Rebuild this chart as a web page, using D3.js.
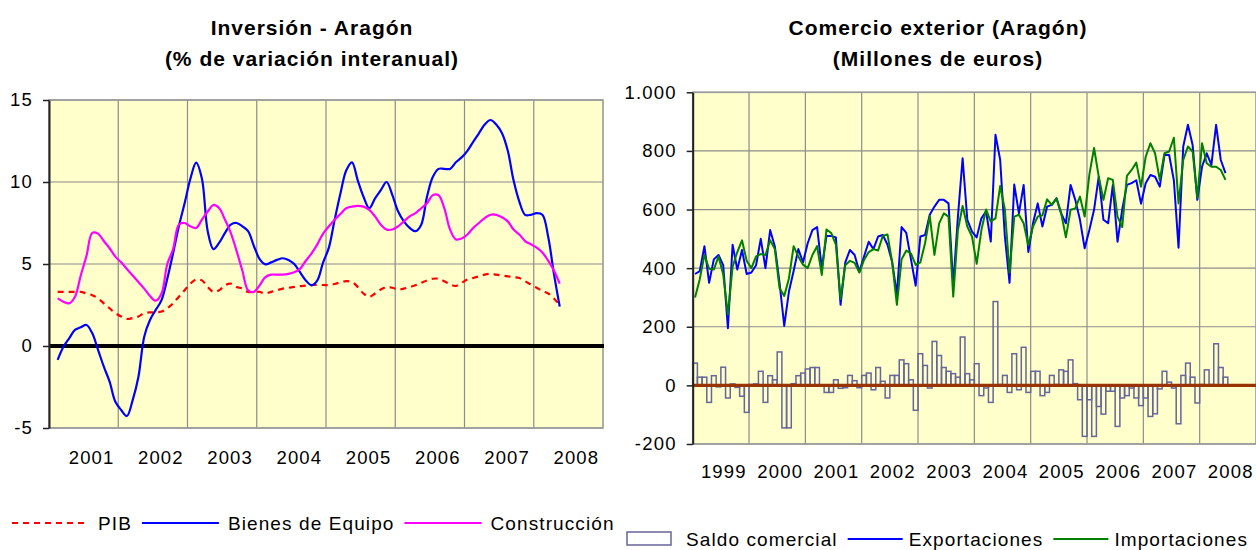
<!DOCTYPE html>
<html>
<head>
<meta charset="utf-8">
<script src="https://cdn.jsdelivr.net/npm/d3@7"></script>
<style>
  body { margin: 0; background: #fff; }
  svg text { font-family: "Liberation Sans", Arial, sans-serif; fill: #000; }
</style>
</head>
<body>
<div id="chart"></div>
<script>
// ---- Inversión - Aragón (monthly, first point = Feb 2001) ----
const yearsL = [2001, 2002, 2003, 2004, 2005, 2006, 2007, 2008];
const startMonthL = 1;
const yTicksL = [-5, 0, 5, 10, 15];
const pib = [
  3.3, 3.3, 3.3, 3.3, 3.3, 3.2, 3.1, 2.9, 2.6, 2.3,
  2.0, 1.8, 1.65, 1.7, 1.8, 2.0, 2.05, 2.05, 2.1, 2.3,
  2.6, 3.0, 3.4, 3.8, 4.05, 4.0, 3.6, 3.3, 3.4, 3.7,
  3.8, 3.6, 3.5, 3.3, 3.3, 3.3, 3.2, 3.3, 3.4, 3.5,
  3.55, 3.6, 3.65, 3.68, 3.72, 3.72, 3.72, 3.72, 3.78, 3.88,
  3.95, 3.9, 3.6, 3.2, 3.0, 3.2, 3.45, 3.6, 3.55, 3.45,
  3.5, 3.6, 3.7, 3.85, 4.0, 4.1, 4.1, 3.95, 3.75, 3.66,
  3.85, 4.05, 4.15, 4.25, 4.35, 4.4, 4.35, 4.3, 4.25, 4.2,
  4.15, 3.95, 3.75, 3.55, 3.35, 3.2, 2.9, 2.5
];
const bienesEquipo = [
  -0.85, -0.05, 0.47, 0.98, 1.14, 1.28, 0.77, -0.24, -1.26, -2.17,
  -3.4, -3.9, -4.27, -3.3, -1.87, 0.57, 1.59, 2.2, 2.8, 4.1,
  5.65, 7.3, 8.7, 10.2, 11.18, 10.2, 7.0, 5.9, 6.3, 6.9,
  7.4, 7.5, 7.3, 7.0, 6.1, 5.3, 4.98, 5.1, 5.25, 5.35,
  5.25, 5.0, 4.5, 4.0, 3.7, 4.0, 5.1, 6.0, 7.7, 9.3,
  10.7, 11.2, 10.1, 9.1, 8.4, 9.0, 9.5, 10.0, 9.2, 8.2,
  7.6, 7.2, 7.0, 7.4, 9.1, 10.3, 10.8, 10.8, 10.8, 11.2,
  11.5, 11.9, 12.45, 12.97, 13.5, 13.78, 13.5, 12.97, 11.9, 10.1,
  8.8, 8.0, 8.0, 8.1, 8.0, 6.66, 4.4, 2.4
];
const construccion = [
  2.9, 2.7, 2.6, 3.0, 4.3, 5.5, 6.9, 6.85, 6.4, 5.96,
  5.45, 5.1, 4.7, 4.3, 3.9, 3.5, 3.05, 2.76, 3.2, 5.0,
  5.9, 7.4, 7.5, 7.3, 7.2, 7.7, 8.2, 8.6, 8.4, 7.7,
  6.9, 5.8, 4.6, 3.4, 3.3, 3.7, 4.2, 4.35, 4.35, 4.35,
  4.4, 4.5, 4.7, 5.2, 5.65, 6.2, 6.85, 7.3, 7.7, 8.05,
  8.4, 8.5, 8.55, 8.5, 8.3, 7.9, 7.4, 7.1, 7.1, 7.3,
  7.6, 7.9, 8.1, 8.4, 8.7, 9.2, 9.2, 8.4, 7.1, 6.5,
  6.55, 6.8, 7.2, 7.5, 7.8, 8.0, 8.0, 7.85, 7.6, 7.1,
  6.8, 6.4, 6.2, 6.0, 5.7, 5.2, 4.6, 3.8
];

// ---- Comercio exterior (Aragón), monthly from Jan 1999 ----
const yearsR = [1999, 2000, 2001, 2002, 2003, 2004, 2005, 2006, 2007, 2008];
const yTicksR = [-200, 0, 200, 400, 600, 800, 1000];
const exportaciones = [
  380, 390, 475, 350, 430, 445, 410, 195, 480, 395, 462, 380,
  385, 410, 500, 400, 530, 474, 350, 203, 320, 390, 465, 420,
  485, 530, 540, 400, 510, 510, 505, 275, 420, 462, 445, 388,
  440, 490, 465, 508, 513, 480, 420, 310, 540, 520, 430, 340,
  508, 513, 582, 610, 633, 633, 621, 340, 576, 775, 565, 525,
  505, 570, 594, 491, 855, 770, 508, 350, 685, 587, 684, 455,
  553, 621, 542, 610, 616, 638, 587, 553, 684, 633, 565, 468,
  530, 599, 712, 565, 553, 684, 490, 600, 684, 690, 700, 620,
  690, 718, 712, 678, 786, 786, 700, 470, 815, 889, 820, 633,
  746, 792, 752, 889, 769, 724
];
const importaciones = [
  300, 362, 445, 398, 395, 440, 378, 242, 405, 455, 495, 425,
  400, 440, 448, 445, 495, 465, 332, 305, 365, 475, 440, 412,
  400, 445, 475, 377, 532, 520, 480, 295, 410, 425, 418, 385,
  428, 455, 465, 460, 510, 515, 420, 275, 430, 460, 450, 411,
  420, 485, 578, 445, 553, 587, 576, 303, 530, 612, 542, 508,
  415, 530, 600, 559, 570, 680, 600, 385, 576, 582, 553, 478,
  542, 576, 580, 635, 616, 638, 587, 505, 599, 604, 644, 576,
  719, 810, 712, 633, 707, 701, 576, 540, 715, 735, 760, 678,
  780, 826, 792, 701, 792, 798, 845, 621, 769, 815, 798, 640,
  826, 758, 746, 746, 735, 701
];
const saldoComercial = [
  76, 28, 28, -58, 33, -5, 62, -43, 5, -7, -37, -92,
  3, 5, 48, -58, 33, 19, 114, -145, -145, 6, 33, 42,
  56, 61, 61, 2, -24, -24, 19, -10, -8, 34, 16, -8,
  34, 42, -15, 61, 14, -43, 34, 34, 87, 74, 19, -85,
  108, 68, -9, 150, 102, 61, 48, 40, 28, 165, 40, 19,
  74, -35, -9, -58, 286, 3, 34, -24, 108, -15, 130, -24,
  48, 48, -35, -24, 34, 3, 53, 48, 87, 6, -49, -174,
  -49, -174, -72, -98, -20, -20, -140, -43, -35, -9, -43, -69,
  -43, -106, -97, -12, 48, 11, -9, -131, 34, 76, 28, -60,
  3, 53, 3, 142, 61, 28
];

const W = 1256, H = 550;
const plotBg = '#ffffcc';
const gridColor = '#8c8c8c';
const esFormat = d3.formatLocale({ decimal: ',', thousands: '.', grouping: [3], currency: ['', ' €'], minus: '-' }).format(',d');

const svg = d3.select('#chart').append('svg').attr('width', W).attr('height', H);

function title(cx, lines) {
  lines.forEach((t, i) => {
    svg.append('text')
      .attr('x', cx).attr('y', 35 + i * 31)
      .attr('text-anchor', 'middle')
      .attr('font-size', 21).attr('font-weight', 'bold')
      .attr('letter-spacing', 1)
      .text(t);
  });
}

function frame(g, box, xGrid, yGrid, x, y) {
  g.append('rect')
    .attr('x', box.left).attr('y', box.top)
    .attr('width', box.right - box.left).attr('height', box.bottom - box.top)
    .attr('fill', plotBg);
  g.append('g').selectAll('line').data(yGrid).join('line')
    .attr('x1', box.left).attr('x2', box.right)
    .attr('y1', (d) => y(d)).attr('y2', (d) => y(d))
    .attr('stroke', gridColor).attr('stroke-width', 1.2);
  g.append('g').selectAll('line').data(xGrid).join('line')
    .attr('x1', (d) => x(d)).attr('x2', (d) => x(d))
    .attr('y1', box.top).attr('y2', box.bottom)
    .attr('stroke', gridColor).attr('stroke-width', 1.2);
  g.append('rect')
    .attr('x', box.left).attr('y', box.top)
    .attr('width', box.right - box.left).attr('height', box.bottom - box.top)
    .attr('fill', 'none').attr('stroke', '#999').attr('stroke-width', 1.6);
}

function yAxis(g, box, y, ticks) {
  const ax = g.append('g')
    .attr('transform', `translate(${box.left},0)`)
    .call(d3.axisLeft(y).tickValues(ticks).tickSize(6).tickSizeOuter(0).tickPadding(10).tickFormat(esFormat));
  ax.select('.domain').attr('stroke', '#222').attr('stroke-width', 2);
  ax.selectAll('.tick line').attr('stroke', '#222').attr('stroke-width', 1.5);
  ax.selectAll('.tick text')
    .attr('font-size', 18.5).attr('letter-spacing', 1.2)
    .attr('font-family', '"Liberation Sans", Arial, sans-serif').attr('fill', '#000');
}

function xLabels(g, band, yPos, shift) {
  const ax = g.append('g')
    .attr('transform', `translate(${shift},${yPos})`)
    .call(d3.axisBottom(band).tickSize(0).tickPadding(0));
  ax.select('.domain').remove();
  ax.selectAll('.tick text')
    .attr('font-size', 18.5).attr('letter-spacing', 1.2)
    .attr('font-family', '"Liberation Sans", Arial, sans-serif').attr('fill', '#000');
}

// ================= Left chart =================
const L = { left: 49, right: 603, top: 100, bottom: 428 };
const xL = d3.scaleLinear().domain([0, yearsL.length * 12]).range([L.left, L.right]);
const yL = d3.scaleLinear().domain([-5, 15]).range([L.bottom, L.top]);
const bandL = d3.scaleBand().domain(yearsL).range([L.left, L.right]);
const gL = svg.append('g');

title(312, ['Inversión - Aragón', '(% de variación interanual)']);
frame(gL, L, d3.range(1, yearsL.length).map((k) => k * 12), yTicksL, xL, yL);

gL.append('line')
  .attr('x1', L.left).attr('x2', L.right + 1)
  .attr('y1', yL(0)).attr('y2', yL(0))
  .attr('stroke', '#000').attr('stroke-width', 4);

const lineL = d3.line()
  .x((d, i) => xL(startMonthL + i + 0.5))
  .y((d) => yL(d))
  .curve(d3.curveCatmullRom);

const seriesL = [
  { name: 'PIB', values: pib, color: '#ff0000', dash: '6,5' },
  { name: 'Bienes de Equipo', values: bienesEquipo, color: '#0000ff', dash: null },
  { name: 'Construcción', values: construccion, color: '#ff00ff', dash: null },
];
gL.append('g').selectAll('path').data(seriesL).join('path')
  .attr('d', (d) => lineL(d.values))
  .attr('fill', 'none')
  .attr('stroke', (d) => d.color)
  .attr('stroke-width', 2.2)
  .attr('stroke-dasharray', (d) => d.dash);

yAxis(gL, L, yL, yTicksL);
xLabels(gL, bandL, 451, 8);

// legend (left)
let lx = 12;
seriesL.forEach((s) => {
  gL.append('line')
    .attr('x1', lx).attr('x2', lx + 77).attr('y1', 523).attr('y2', 523)
    .attr('stroke', s.color).attr('stroke-width', 2)
    .attr('stroke-dasharray', s.dash);
  const t = gL.append('text')
    .attr('x', lx + 86).attr('y', 529.5)
    .attr('font-size', 19).attr('letter-spacing', 1.1)
    .text(s.name);
  lx += 86 + t.node().getComputedTextLength() + 10;
});

// ================= Right chart =================
const R = { left: 692.7, right: 1256, top: 92.3, bottom: 444 };
const xR = d3.scaleLinear().domain([0, yearsR.length * 12]).range([R.left, R.right]);
const yR = d3.scaleLinear().domain([-200, 1000]).range([R.bottom, R.top]);
const bandR = d3.scaleBand().domain(yearsR).range([R.left, R.right]);
const gR = svg.append('g');

title(938, ['Comercio exterior (Aragón)', '(Millones de euros)']);
frame(gR, R, d3.range(1, yearsR.length).map((k) => k * 12), yTicksR, xR, yR);

gR.append('g').selectAll('rect').data(saldoComercial).join('rect')
  .attr('x', (d, i) => xR(i))
  .attr('width', (d, i) => xR(i + 1) - xR(i))
  .attr('y', (d) => yR(Math.max(d, 0)))
  .attr('height', (d) => Math.abs(yR(d) - yR(0)))
  .attr('fill', 'none')
  .attr('stroke', '#666699')
  .attr('stroke-width', 1.5);

gR.append('line')
  .attr('x1', R.left).attr('x2', R.right)
  .attr('y1', yR(0)).attr('y2', yR(0))
  .attr('stroke', '#993300').attr('stroke-width', 3.2);

const lineR = d3.line()
  .x((d, i) => xR(i + 0.5))
  .y((d) => yR(d));

const seriesR = [
  { name: 'Exportaciones', values: exportaciones, color: '#0000ff' },
  { name: 'Importaciones', values: importaciones, color: '#008000' },
];
gR.append('g').selectAll('path').data(seriesR).join('path')
  .attr('d', (d) => lineR(d.values))
  .attr('fill', 'none')
  .attr('stroke', (d) => d.color)
  .attr('stroke-width', 2)
  .attr('stroke-linejoin', 'round');

yAxis(gR, R, yR, yTicksR);
xLabels(gR, bandR, 465, 3);

// legend (right)
gR.append('rect')
  .attr('x', 627).attr('y', 532).attr('width', 44).attr('height', 13)
  .attr('fill', '#fff').attr('stroke', '#666699').attr('stroke-width', 1.5);
let rx = 627 + 44 + 15;
const saldoText = gR.append('text')
  .attr('x', rx).attr('y', 545.5)
  .attr('font-size', 19).attr('letter-spacing', 1.1)
  .text('Saldo comercial');
rx += saldoText.node().getComputedTextLength() + 10;
seriesR.forEach((s) => {
  gR.append('line')
    .attr('x1', rx).attr('x2', rx + 55).attr('y1', 539).attr('y2', 539)
    .attr('stroke', s.color).attr('stroke-width', 2);
  const t = gR.append('text')
    .attr('x', rx + 61).attr('y', 545.5)
    .attr('font-size', 19).attr('letter-spacing', 1.1)
    .text(s.name);
  rx += 61 + t.node().getComputedTextLength() + 10;
});
</script>
</body>
</html>
